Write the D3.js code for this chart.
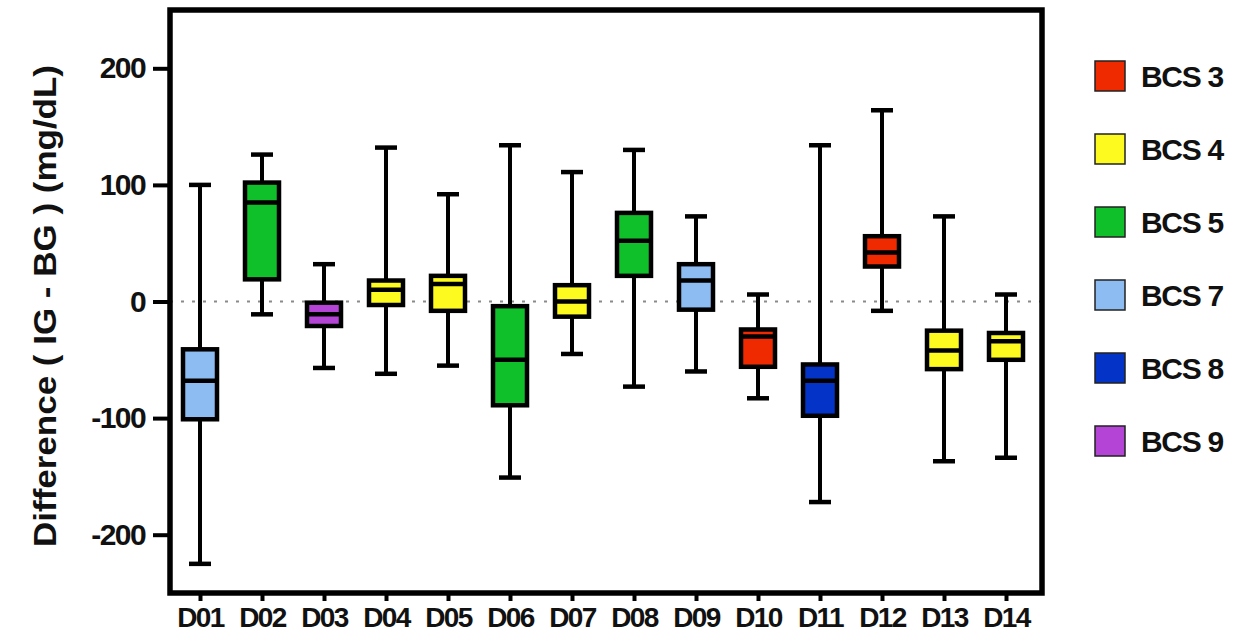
<!DOCTYPE html>
<html>
<head>
<meta charset="utf-8">
<script src="https://cdn.jsdelivr.net/npm/d3@7"></script>
<style>
  html, body { margin: 0; padding: 0; background: #fff; }
  svg { display: block; }
  text { font-family: "Liberation Sans", Arial, sans-serif; font-weight: bold; fill: #111; }
</style>
</head>
<body>
<svg id="chart" width="1253" height="639"></svg>
<script>
// ---- data ----
const categories = ["D01","D02","D03","D04","D05","D06","D07","D08","D09","D10","D11","D12","D13","D14"];
const whiskerHigh = [100, 126, 32, 132, 92, 134, 111, 130, 73, 6, 134, 164, 73, 6];
const q3Values    = [-41, 102, -1, 18, 22, -4, 14, 76, 32, -24, -54, 56, -25, -27];
const medians     = [-68, 85, -11, 10, 15, -50, 0, 52, 18, -30, -68, 42, -42, -34];
const q1Values    = [-101, 19, -21, -3, -8, -89, -13, 22, -7, -56, -98, 30, -58, -50];
const whiskerLow  = [-225, -11, -57, -62, -55, -151, -45, -73, -60, -83, -172, -8, -137, -134];
const groups      = ["BCS 7","BCS 5","BCS 9","BCS 4","BCS 4","BCS 5","BCS 4","BCS 5","BCS 7","BCS 3","BCS 8","BCS 3","BCS 4","BCS 4"];
const legendLabels = ["BCS 3","BCS 4","BCS 5","BCS 7","BCS 8","BCS 9"];
const legendColors = ["#f02a00","#fcfa1e","#0fc02a","#8dbcf2","#0433c8","#b444d6"];
const yTicks = [-200, -100, 0, 100, 200];
const yLabel = "Difference ( IG - BG ) (mg/dL)";

// ---- layout ----
const svg = d3.select("#chart");
const frame = {left: 170, right: 1042, top: 10, bottom: 593};
const x = d3.scalePoint().domain(categories).range([200, 1006]);
const y = d3.scaleLinear().domain([-250, 250]).range([frame.bottom, frame.top]);
const color = d3.scaleOrdinal().domain(legendLabels).range(legendColors);

const data = categories.map((c, i) => ({
  cat: c, hi: whiskerHigh[i], q3: q3Values[i], med: medians[i], q1: q1Values[i], lo: whiskerLow[i], g: groups[i]
}));

// zero dotted line
svg.append("line")
  .attr("x1", frame.left).attr("x2", frame.right)
  .attr("y1", y(0)).attr("y2", y(0))
  .attr("stroke", "#8a8a8a").attr("stroke-width", 2)
  .attr("stroke-dasharray", "3,8");

// boxes
const boxW = 34, capW = 22;
const g = svg.append("g");
const item = g.selectAll("g.box").data(data).join("g").attr("class", "box");
item.append("line")
  .attr("x1", d => x(d.cat)).attr("x2", d => x(d.cat))
  .attr("y1", d => y(d.hi)).attr("y2", d => y(d.lo))
  .attr("stroke", "#000").attr("stroke-width", 4);
item.append("line")
  .attr("x1", d => x(d.cat) - capW/2).attr("x2", d => x(d.cat) + capW/2)
  .attr("y1", d => y(d.hi)).attr("y2", d => y(d.hi))
  .attr("stroke", "#000").attr("stroke-width", 4.5);
item.append("line")
  .attr("x1", d => x(d.cat) - capW/2).attr("x2", d => x(d.cat) + capW/2)
  .attr("y1", d => y(d.lo)).attr("y2", d => y(d.lo))
  .attr("stroke", "#000").attr("stroke-width", 4.5);
item.append("rect")
  .attr("x", d => x(d.cat) - boxW/2).attr("width", boxW)
  .attr("y", d => y(d.q3)).attr("height", d => y(d.q1) - y(d.q3))
  .attr("fill", d => color(d.g)).attr("stroke", "#000").attr("stroke-width", 4.5);
item.append("line")
  .attr("x1", d => x(d.cat) - boxW/2).attr("x2", d => x(d.cat) + boxW/2)
  .attr("y1", d => y(d.med)).attr("y2", d => y(d.med))
  .attr("stroke", "#000").attr("stroke-width", 4.5);

// frame
svg.append("rect")
  .attr("x", frame.left).attr("y", frame.top)
  .attr("width", frame.right - frame.left).attr("height", frame.bottom - frame.top)
  .attr("fill", "none").attr("stroke", "#000").attr("stroke-width", 5.5);

// y axis
const yAxis = d3.axisLeft(y).tickValues(yTicks).tickSize(17).tickPadding(8)
  .tickFormat(d => String(d));
const ya = svg.append("g").attr("transform", `translate(${frame.left},0)`).call(yAxis);
ya.select(".domain").remove();
ya.selectAll(".tick line").attr("stroke", "#000").attr("stroke-width", 4);
ya.selectAll(".tick text")
  .attr("font-size", 30).attr("letter-spacing", -1.6)
  .attr("font-family", "Liberation Sans, Arial, sans-serif").attr("font-weight", "bold")
  .attr("fill", "#111");

// x axis
const xAxis = d3.axisBottom(x).tickSize(8).tickPadding(5);
const xa = svg.append("g").attr("transform", `translate(0,${frame.bottom})`).call(xAxis);
xa.select(".domain").remove();
xa.selectAll(".tick line").attr("stroke", "#000").attr("stroke-width", 4);
xa.selectAll(".tick text")
  .attr("font-size", 28).attr("letter-spacing", -1.6)
  .attr("font-family", "Liberation Sans, Arial, sans-serif").attr("font-weight", "bold")
  .attr("fill", "#111").attr("dy", "0.74em");

// y label
svg.append("text")
  .attr("transform", "translate(56,306) rotate(-90)")
  .attr("text-anchor", "middle")
  .attr("font-family", "'Open Sans', sans-serif")
  .attr("font-size", 31)
  .attr("textLength", 482).attr("lengthAdjust", "spacingAndGlyphs")
  .text(yLabel);

// legend
const leg = svg.append("g").selectAll("g").data(legendLabels).join("g")
  .attr("transform", (d, i) => `translate(1095,${76 + i * 73})`);
leg.append("rect").attr("x", 0).attr("y", -15).attr("width", 30).attr("height", 30)
  .attr("fill", d => color(d)).attr("stroke", "#222").attr("stroke-width", 1.5);
leg.append("text").attr("x", 46).attr("y", 11)
  .attr("font-size", 30).attr("letter-spacing", -1.3)
  .text(d => d);
</script>
</body>
</html>
